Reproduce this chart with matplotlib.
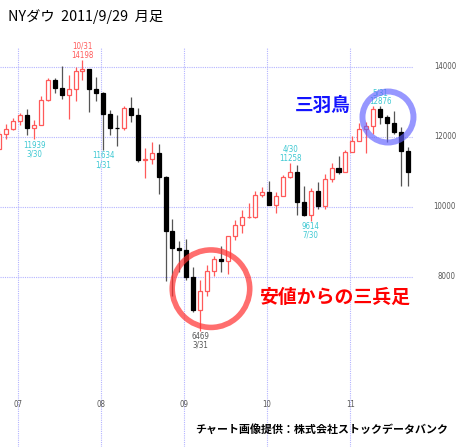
import matplotlib
matplotlib.use("Agg")
import matplotlib.pyplot as plt
import matplotlib.transforms as mtransforms
from matplotlib.patches import Ellipse

# NYダウ 月足 (2006/10 - 2011/9)
months = ([f"2006-{m:02d}" for m in range(10, 13)]
          + [f"{y}-{m:02d}" for y in range(2007, 2011) for m in range(1, 13)]
          + [f"2011-{m:02d}" for m in range(1, 10)])

opens = [11670, 12081, 12221,
         12463, 12622, 12268, 12354, 13063, 13628, 13409, 13212, 13358, 13896, 13930, 13372,
         13262, 12650, 12266, 12263, 12820, 12638, 11350, 11378, 11543, 10847, 9325, 8829,
         8772, 8000, 7063, 7609, 8168, 8500, 8447, 9172, 9496, 9712, 9713, 10345,
         10430, 10067, 10325, 10857, 11009, 10137, 9774, 10466, 10015, 10788, 11118, 11006,
         11577, 11892, 12226, 12320, 12811, 12570, 12414, 12143, 11614]
highs = [12167, 12361, 12529,
         12683, 12795, 12484, 13162, 13692, 13692, 14021, 13763, 13996, 14198, 13932, 13726,
         13279, 12767, 12624, 12891, 13136, 12830, 11698, 11867, 11790, 10882, 9654, 9026,
         9088, 8280, 7925, 8344, 8600, 8878, 9180, 9630, 9917, 10120, 10450, 10580,
         10729, 10419, 10908, 11258, 11205, 10594, 10555, 10720, 10948, 11246, 11452, 11625,
         12020, 12391, 12419, 12876, 12876, 12630, 12753, 12284, 11716]
lows = [11653, 11950, 12194,
        12343, 12050, 11939, 12352, 13040, 13266, 13086, 12517, 13028, 13635, 12724, 13034,
        11634, 12069, 11731, 12200, 12442, 11287, 10827, 11221, 10365, 7882, 7449, 8149,
        7909, 7011, 6469, 7470, 8024, 8155, 8087, 9062, 9252, 9675, 9678, 10280,
        10055, 9835, 10300, 10839, 9774, 9757, 9614, 9937, 9941, 10711, 10929, 11006,
        11577, 11892, 11555, 12093, 12381, 11862, 12093, 10604, 10597]
closes = [12081, 12221, 12463,
          12622, 12268, 12354, 13063, 13628, 13409, 13212, 13358, 13896, 13930, 13372, 13265,
          12650, 12266, 12263, 12820, 12638, 11350, 11378, 11543, 10850, 9325, 8829, 8776,
          8001, 7063, 7609, 8168, 8500, 8447, 9172, 9496, 9712, 9713, 10345, 10428,
          10067, 10325, 10857, 11009, 10137, 9774, 10466, 10015, 10788, 11118, 11006, 11578,
          11892, 12226, 12320, 12811, 12570, 12414, 12143, 11614, 11011]

grid_levels = [8000, 10000, 12000, 14000]
year_labels = ["07", "08", "09", "10", "11"]

# 高値・安値の注記 (月, テキスト, 位置, 色)
notes = [("2007-03", "11939\n3/30", "low", "#3cc8d2"),
         ("2007-10", "10/31\n14198", "high", "#ff5a5a"),
         ("2008-01", "11634\n1/31", "low", "#3cc8d2"),
         ("2009-03", "6469\n3/31", "low", "#555555"),
         ("2010-04", "4/30\n11258", "high", "#3cc8d2"),
         ("2010-07", "9614\n7/30", "low", "#3cc8d2"),
         ("2011-05", "5/31\n12876", "high", "#3cc8d2")]

UP = "#ff5a5a"
DOWN = "#000000"
SMALL = ["DejaVu Sans"]
JP = ["Noto Sans CJK JP", "DejaVu Sans"]

fig = plt.figure(figsize=(4.58, 4.47), dpi=100)
fig.patch.set_facecolor("white")
ax = fig.add_axes([0, 0, 1, 1])
ax.set_axis_off()
ax.set_xlim(0.08, 66.27)
ax.set_ylim(3143, 15914)

x = list(range(len(months)))
jan_x = [months.index(f"20{y}-01") - 0.32 for y in year_labels]

# グリッド
ax.hlines(grid_levels, 0.08, 59.76, colors="#b4b4ff", linestyles=(0, (1, 1)), lw=0.8, zorder=0)
ax.vlines(jan_x, 3143, 14571, colors="#b4b4ff", linestyles=(0, (1, 1)), lw=0.8, zorder=0)

# ローソク足
for i in x:
    o, h, l, c = opens[i], highs[i], lows[i], closes[i]
    up = c >= o
    ax.vlines(i, l, h, colors=UP if up else "#555555", lw=0.9, zorder=1)
    ax.bar(i, abs(c - o), bottom=min(o, c), width=0.58,
           facecolor="white" if up else DOWN,
           edgecolor=UP if up else ("#555555" if c == o else DOWN),
           lw=0.9, zorder=2)

for m, txt, side, col in notes:
    i = months.index(m)
    if side == "high":
        ax.annotate(txt, (i, highs[i]), xytext=(0, 0.2), textcoords="offset points",
                    ha="center", va="bottom", fontsize=5.7, color=col, stretch="condensed",
                    family=SMALL, linespacing=1.0, zorder=3)
    else:
        ax.annotate(txt, (i, lows[i]), xytext=(0, -1), textcoords="offset points",
                    ha="center", va="top", fontsize=5.7, color=col, stretch="condensed",
                    family=SMALL, linespacing=1.0, zorder=3)

# 右側の目盛
ytrans = mtransforms.blended_transform_factory(ax.transAxes, ax.transData)
for v in grid_levels:
    ax.text(456 / 458, v, str(v), transform=ytrans, ha="right", va="center",
            fontsize=5.6, color="#555555", family=SMALL, stretch="condensed")

xtrans = mtransforms.blended_transform_factory(ax.transData, ax.transAxes)
for xx, lab in zip(jan_x, year_labels):
    ax.text(xx, 0.094, lab, transform=xtrans, ha="center", va="center",
            fontsize=5.6, color="#555555", family=SMALL, stretch="condensed")

# 丸囲み
ax.add_patch(Ellipse((56.15, 12571), 51 / 6.92, 51 / 0.035, fill=False,
                     edgecolor="#6060ff", alpha=0.65, lw=4.3, zorder=4))
ax.add_patch(Ellipse((30.57, 7666), 77.5 / 6.92, 77.5 / 0.035, fill=False,
                     edgecolor="#ff3030", alpha=0.7, lw=4.0, zorder=4))

ax.text(46.75, 12894, "三羽鳥", ha="center", va="center", fontsize=13.4,
        color="#1414ff", family=JP, fontweight="bold", zorder=5)
ax.text(48.63, 7429, "安値からの三兵足", ha="center", va="center", fontsize=13.6,
        color="#ff0000", family=JP, fontweight="bold", zorder=5)

fig.text(8 / 458, 1 - 17 / 447, "NYダウ  2011/9/29  月足", ha="left", va="center",
         fontsize=10.3, color="black", family=JP)
fig.text(448 / 458, 1 - 429 / 447, "チャート画像提供：株式会社ストックデータバンク",
         ha="right", va="center", fontsize=7.9, color="black", family=JP, fontweight="bold")

fig.savefig("out.png", dpi=100, facecolor="white")
